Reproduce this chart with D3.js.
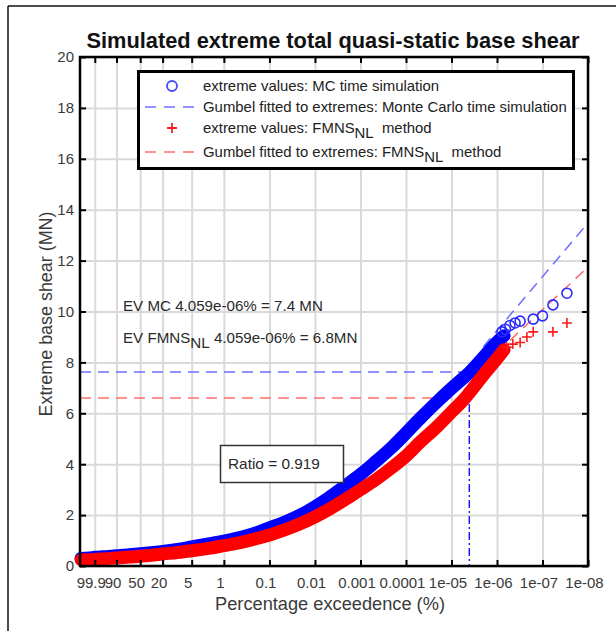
<!DOCTYPE html>
<html><head><meta charset="utf-8">
<script src="https://cdn.jsdelivr.net/npm/d3@7"></script>
<style>
body{margin:0;background:#fff}
text{font-family:"Liberation Sans",Arial,sans-serif}
</style>
</head><body>
<svg id="c" width="616" height="631"></svg>
<script>
// ---------- data ----------
const xTickValues = [99.9, 90, 50, 20, 5, 1, 0.1, 0.01, 0.001, 0.0001, 1e-5, 1e-6, 1e-7, 1e-8];
const xTickLabels = ["99.9","90","50","20","5","1","0.1","0.01","0.001","0.0001","1e-05","1e-06","1e-07","1e-08"];
const yTickValues = [0,2,4,6,8,10,12,14,16,18,20];

// dense part of the extremes (exceedance %, value MN)
const bandExceedance = [99.9999, 99.99, 99.9, 99, 95, 90, 80, 70, 50, 30, 20, 10, 5, 2, 1, 0.5, 0.2, 0.1, 0.05, 0.02, 0.01,
  5e-3, 2e-3, 1e-3, 5e-4, 2e-4, 1e-4, 5e-5, 2e-5, 1e-5, 5e-6, 4.059e-6, 2e-6, 1e-6, 7e-7];
const mcBandValues = [0.30, 0.32, 0.34, 0.36, 0.38, 0.40, 0.42, 0.44, 0.48, 0.53, 0.57, 0.65, 0.75, 0.88, 0.98, 1.10, 1.30, 1.50, 1.70, 2.02, 2.33,
  2.68, 3.20, 3.60, 4.05, 4.68, 5.22, 5.78, 6.48, 6.98, 7.45, 7.60, 8.20, 8.80, 9.05];
const fmnsBandValues = [0.24, 0.25, 0.26, 0.28, 0.30, 0.31, 0.33, 0.35, 0.38, 0.43, 0.47, 0.53, 0.60, 0.70, 0.80, 0.90, 1.07, 1.22, 1.40, 1.68, 1.93,
  2.22, 2.65, 3.00, 3.35, 3.88, 4.32, 4.85, 5.50, 6.05, 6.60, 6.80, 7.50, 8.15, 8.50];

// sparse tail of the extremes
const mcTailExceedance = [7.8e-7, 6.5e-7, 5.2e-7, 4e-7, 3.1e-7, 1.6e-7, 1.0e-7, 5.9e-8, 2.9e-8];
const mcTailValues     = [9.20, 9.30, 9.45, 9.55, 9.62, 9.70, 9.83, 10.26, 10.72];
const fmnsTailExceedance = [6.1e-7, 4.5e-7, 3.1e-7, 2.2e-7, 1.6e-7, 5.9e-8, 2.9e-8];
const fmnsTailValues     = [8.60, 8.72, 8.78, 9.00, 9.20, 9.20, 9.55];

// Gumbel fits (straight lines on Gumbel paper)
const mcFitExceedance = [2e-6, 1e-8];
const mcFitValues = [8.62, 13.48];
const fmnsFitExceedance = [1e-6, 1e-8];
const fmnsFitValues = [8.38, 11.75];

// design level markers
const evExceedance = 4.059e-6;
const mcEVLevel = 7.62;
const fmnsEVLevel = 6.60;

// ---------- setup ----------
const svg = d3.select("#c");
const L = 80, R = 588, T = 57, B = 566;
const gum = P => -Math.log(-Math.log1p(-P / 100));
const x = d3.scaleLinear().domain([-2.68, gum(1e-8)]).range([L, R]);
const y = d3.scaleLinear().domain([0, 20]).range([B, T]);
const X = P => x(gum(P));

function fit(sel, target) {
  const w = sel.node().getComputedTextLength();
  const fs = parseFloat(sel.attr("font-size"));
  sel.attr("font-size", (fs * target / w).toFixed(2));
  return fs * target / w;
}

// outer frame
svg.append("line").attr("x1", 8).attr("x2", 616).attr("y1", 6).attr("y2", 6).attr("stroke", "#111").attr("stroke-width", 1.5);
svg.append("line").attr("x1", 8).attr("x2", 8).attr("y1", 6).attr("y2", 631).attr("stroke", "#111").attr("stroke-width", 1.5);

// grid
const xt = xTickValues.map(gum);
const gridX = svg.append("g").attr("transform", `translate(0,${B})`)
  .call(d3.axisBottom(x).tickValues(xt).tickSize(-(B - T)).tickFormat(""));
const gridY = svg.append("g").attr("transform", `translate(${L},0)`)
  .call(d3.axisLeft(y).tickValues(yTickValues).tickSize(-(R - L)).tickFormat(""));
[gridX, gridY].forEach(g => {
  g.select(".domain").remove();
  g.selectAll("line").attr("stroke", "#dadada").attr("stroke-width", 2);
});

// EV level lines
svg.append("line").attr("x1", L).attr("x2", X(evExceedance)).attr("y1", y(mcEVLevel)).attr("y2", y(mcEVLevel))
  .attr("stroke", "#6e6eff").attr("stroke-width", 1.5).attr("stroke-dasharray", "11,7");
svg.append("line").attr("x1", L).attr("x2", X(evExceedance)).attr("y1", y(fmnsEVLevel)).attr("y2", y(fmnsEVLevel))
  .attr("stroke", "#ff6e6e").attr("stroke-width", 1.5).attr("stroke-dasharray", "11,7");
svg.append("line").attr("x1", X(evExceedance)).attr("x2", X(evExceedance)).attr("y1", y(mcEVLevel)).attr("y2", B)
  .attr("stroke", "#2020ff").attr("stroke-width", 1.5).attr("stroke-dasharray", "8,3,2,3");

// fit lines
const fitLine = d3.line().x(d => X(d[0])).y(d => y(d[1]));
svg.append("path").attr("d", fitLine(d3.zip(mcFitExceedance, mcFitValues)))
  .attr("fill", "none").attr("stroke", "#6e6eff").attr("stroke-width", 1.5).attr("stroke-dasharray", "11,7");
svg.append("path").attr("d", fitLine(d3.zip(fmnsFitExceedance, fmnsFitValues)))
  .attr("fill", "none").attr("stroke", "#ff6e6e").attr("stroke-width", 1.5).attr("stroke-dasharray", "11,7");

// bands
const bandLine = d3.line().x(d => X(d[0])).y(d => y(d[1])).curve(d3.curveMonotoneX);
function plus(g, data, color) {
  g.selectAll("path.p").data(data).join("path")
    .attr("d", d => { const cx = X(d[0]), cy = y(d[1]); return `M${cx-5},${cy}H${cx+5}M${cx},${cy-5}V${cy+5}`; })
    .attr("stroke", color).attr("stroke-width", 1.6).attr("fill", "none");
}
function circ(g, data, color) {
  g.selectAll("circle").data(data).join("circle")
    .attr("cx", d => X(d[0])).attr("cy", d => y(d[1])).attr("r", 5)
    .attr("fill", "none").attr("stroke", color).attr("stroke-width", 1.6);
}
const gMC = svg.append("g");
gMC.append("path").attr("d", bandLine(d3.zip(bandExceedance, mcBandValues)))
  .attr("fill", "none").attr("stroke", "#0000ff").attr("stroke-width", 13).attr("stroke-linecap", "round");
circ(gMC.append("g"), d3.zip(bandExceedance, mcBandValues), "#0000ff");
circ(gMC.append("g"), d3.zip(mcTailExceedance, mcTailValues), "#2a2aff");

const gF = svg.append("g");
gF.append("path").attr("d", bandLine(d3.zip(bandExceedance, fmnsBandValues)))
  .attr("fill", "none").attr("stroke", "#ff0000").attr("stroke-width", 13).attr("stroke-linecap", "round");
plus(gF.append("g"), d3.zip(bandExceedance, fmnsBandValues), "#ff0000");
plus(gF.append("g"), d3.zip(fmnsTailExceedance, fmnsTailValues), "#ff1a1a");

// axes with inward ticks
const tickLen = 6;
const axB = svg.append("g").attr("transform", `translate(0,${B})`)
  .call(d3.axisBottom(x).tickValues(xt).tickSize(-tickLen).tickPadding(11).tickFormat((d, i) => xTickLabels[i]));
const axT = svg.append("g").attr("transform", `translate(0,${T})`)
  .call(d3.axisTop(x).tickValues(xt).tickSize(-tickLen).tickFormat(""));
const axL = svg.append("g").attr("transform", `translate(${L},0)`)
  .call(d3.axisLeft(y).tickValues(yTickValues).tickSize(-tickLen).tickPadding(6).tickFormat(d3.format("d")));
const axR = svg.append("g").attr("transform", `translate(${R},0)`)
  .call(d3.axisRight(y).tickValues(yTickValues).tickSize(-tickLen).tickFormat(""));
[axB, axT, axL, axR].forEach(a => {
  a.select(".domain").remove();
  a.selectAll("line").attr("stroke", "#000").attr("stroke-width", 2);
  a.selectAll("text").attr("font-size", 15).attr("fill", "#3a3a3a").attr("font-family", "Liberation Sans, Arial, sans-serif");
});
axB.selectAll("text").attr("dx", "-4");
svg.append("rect").attr("x", L).attr("y", T).attr("width", R - L).attr("height", B - T)
  .attr("fill", "none").attr("stroke", "#000").attr("stroke-width", 2.5);

// title and axis labels
const title = svg.append("text").attr("x", (L + R) / 2 - 1).attr("y", 48).attr("text-anchor", "middle")
  .attr("font-size", 18).attr("font-weight", "bold").attr("fill", "#111")
  .text("Simulated extreme total quasi-static base shear");
fit(title, 493);
const xl = svg.append("text").attr("x", 330).attr("y", 610).attr("text-anchor", "middle")
  .attr("font-size", 18).attr("fill", "#3a3a3a").text("Percentage exceedence (%)");
fit(xl, 230);
const yl = svg.append("text").attr("transform", "translate(52,314) rotate(-90)").attr("text-anchor", "middle")
  .attr("font-size", 18).attr("fill", "#3a3a3a").text("Extreme base shear (MN)");
fit(yl, 205);

// legend
const lg = svg.append("g");
lg.append("rect").attr("x", 138.5).attr("y", 71.5).attr("width", 435).attr("height", 97)
  .attr("fill", "#fff").attr("stroke", "#000").attr("stroke-width", 3);
const rows = [91, 112, 133, 157];
lg.append("circle").attr("cx", 172).attr("cy", 86).attr("r", 5).attr("fill", "none").attr("stroke", "#4848ff").attr("stroke-width", 1.8);
lg.append("line").attr("x1", 145).attr("x2", 200).attr("y1", 107).attr("y2", 107)
  .attr("stroke", "#6e6eff").attr("stroke-width", 1.5).attr("stroke-dasharray", "11,8");
lg.append("path").attr("d", "M167,128H177M172,123V133").attr("stroke", "#ff2020").attr("stroke-width", 1.8);
lg.append("line").attr("x1", 145).attr("x2", 200).attr("y1", 152).attr("y2", 152)
  .attr("stroke", "#ff6e6e").attr("stroke-width", 1.5).attr("stroke-dasharray", "11,8");
const t2 = lg.append("text").attr("x", 203).attr("y", rows[1]).attr("font-size", 14).attr("fill", "#222")
  .text("Gumbel fitted to extremes: Monte Carlo time simulation");
const lfs = fit(t2, 364);
lg.append("text").attr("x", 203).attr("y", rows[0]).attr("font-size", lfs).attr("fill", "#222")
  .text("extreme values: MC time simulation");
const t3 = lg.append("text").attr("x", 203).attr("y", rows[2]).attr("font-size", lfs).attr("fill", "#222");
t3.append("tspan").text("extreme values: FMNS");
t3.append("tspan").attr("dy", 5).text("NL");
t3.append("tspan").attr("dy", -5).attr("xml:space", "preserve").text("\u00a0 method");
const t4 = lg.append("text").attr("x", 203).attr("y", rows[3]).attr("font-size", lfs).attr("fill", "#222");
t4.append("tspan").text("Gumbel fitted to extremes: FMNS");
t4.append("tspan").attr("dy", 5).text("NL");
t4.append("tspan").attr("dy", -5).text("\u00a0 method");

// annotations
const a1 = svg.append("text").attr("x", 123).attr("y", 311).attr("font-size", 15).attr("fill", "#2a2a2a")
  .text("EV MC 4.059e-06% = 7.4 MN");
const afs = fit(a1, 200);
const a2 = svg.append("text").attr("x", 123).attr("y", 343).attr("font-size", afs).attr("fill", "#2a2a2a");
a2.append("tspan").text("EV FMNS");
a2.append("tspan").attr("dy", 5).text("NL");
a2.append("tspan").attr("dy", -5).text("\u00a04.059e-06% = 6.8MN");

// ratio box
svg.append("rect").attr("x", 220.5).attr("y", 445.5).attr("width", 123).attr("height", 37)
  .attr("fill", "#fff").attr("stroke", "#333").attr("stroke-width", 1.5);
const rt = svg.append("text").attr("x", 228).attr("y", 469).attr("font-size", 15).attr("fill", "#2a2a2a").text("Ratio = 0.919");
fit(rt, 92);
</script>
</body></html>
